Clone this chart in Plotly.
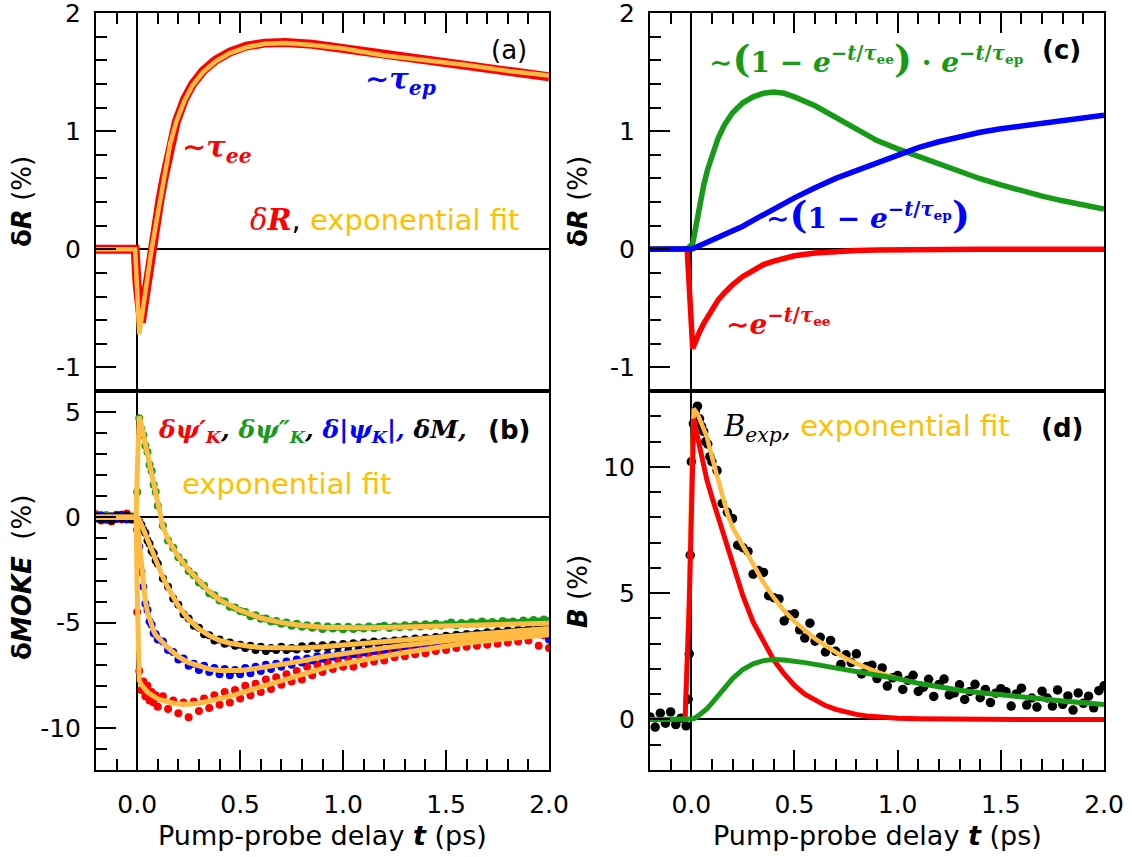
import plotly.graph_objects as go

W, H = 1132, 857

# ---------------- panel (a): delta R ----------------
t_a = [-0.2, -0.1, -0.01, 0.0, 0.01, 0.02, 0.035, 0.05, 0.07, 0.09, 0.11, 0.13, 0.16, 0.19,
       0.23, 0.27, 0.32, 0.38, 0.45, 0.53, 0.62, 0.72, 0.85, 1.0, 1.2, 1.4, 1.6, 1.8, 2.0]
dR_data = [0, 0.01, 0, -0.3, -0.6, -0.62, -0.45, -0.25, -0.02, 0.2, 0.41, 0.6, 0.89, 1.08,
           1.27, 1.4, 1.51, 1.6, 1.67, 1.72, 1.745, 1.75, 1.735, 1.70, 1.645, 1.6, 1.555, 1.51, 1.46]
dR_fit = [0, 0, 0, -0.35, -0.72, -0.6, -0.4, -0.22, 0.0, 0.2, 0.4, 0.6, 0.89, 1.08,
          1.26, 1.39, 1.5, 1.59, 1.66, 1.71, 1.74, 1.745, 1.73, 1.70, 1.64, 1.6, 1.56, 1.51, 1.47]

# ---------------- panel (b): delta MOKE ----------------
t_b = [-0.2, -0.175, -0.15, -0.125, -0.1, -0.075, -0.05, -0.025,
       0.0, 0.01, 0.02, 0.03, 0.04, 0.05, 0.06, 0.07, 0.08, 0.09, 0.1,
       0.125, 0.15, 0.175, 0.2, 0.225, 0.25, 0.275, 0.3, 0.325, 0.35, 0.375, 0.4, 0.425, 0.45, 0.475, 0.5,
       0.525, 0.55, 0.575, 0.6, 0.625, 0.65, 0.675, 0.7, 0.725, 0.75, 0.775, 0.8, 0.825, 0.85, 0.875,
       0.9, 0.925, 0.95, 0.975, 1.0,
       1.025, 1.05, 1.075, 1.1, 1.125, 1.15, 1.175, 1.2, 1.225, 1.25, 1.275, 1.3, 1.325, 1.35, 1.375,
       1.4, 1.425, 1.45, 1.475, 1.5,
       1.525, 1.55, 1.575, 1.6, 1.625, 1.65, 1.675, 1.7, 1.725, 1.75, 1.775, 1.8, 1.825, 1.85, 1.875,
       1.9, 1.925, 1.95, 1.975, 2.0]
psi1_data = [0.15, -0.15, 0.1, -0.2, 0.12, -0.1, 0.18, -0.12,
             -4.5, -7.3, -8.2, -7.8, -8.5, -8.0, -8.7, -8.3, -8.8, -8.45, -9.0,
             -8.5, -9.1, -8.7, -9.3, -8.8, -9.5, -8.75, -9.2, -8.6, -9.05, -8.45, -8.9, -8.3, -8.8, -8.2, -8.6,
             -8.0, -8.45, -7.9, -8.3, -7.7, -8.15, -7.6, -7.95, -7.45, -7.8, -7.3, -7.7, -7.1, -7.5, -7.0,
             -7.35, -6.9, -7.2, -6.75, -7.1,
             -6.7, -7.1, -6.55, -6.95, -6.5, -6.85, -6.4, -6.8, -6.3, -6.65, -6.2, -6.6, -6.15, -6.5, -6.05,
             -6.45, -6.0, -6.35, -5.9, -6.3,
             -5.85, -6.2, -5.8, -6.15, -5.75, -6.1, -5.7, -6.05, -5.65, -6.0, -5.6, -5.95, -5.55, -5.9, -5.55,
             -5.85, -5.5, -6.1, -5.6, -6.2]
psi2_data = [0.1, -0.05, 0.08, -0.1, 0.05, 0.12, -0.06, 0.04,
             1.2, 4.7, 4.2, 3.9, 3.4, 3.1, 2.5, 2.2, 1.55, 1.2, 0.55,
             -0.4, -1.1, -1.45, -1.9, -2.15, -2.55, -2.75, -3.1, -3.25, -3.6, -3.7, -3.95, -4.0, -4.25, -4.28, -4.45,
             -4.5, -4.7, -4.65, -4.82, -4.8, -4.95, -4.92, -5.05, -5.0, -5.15, -5.05, -5.2, -5.12, -5.25, -5.15,
             -5.3, -5.18, -5.28, -5.2, -5.32,
             -5.2, -5.3, -5.22, -5.28, -5.18, -5.27, -5.2, -5.15, -5.26, -5.17, -5.22, -5.12, -5.2, -5.1, -5.18,
             -5.08, -5.15, -5.05, -5.14, -5.08,
             -5.0, -5.12, -5.02, -5.08, -4.98, -5.06, -4.95, -5.04, -4.97, -5.05, -4.92, -5.0, -4.95, -5.02, -4.9,
             -4.98, -4.88, -4.95, -4.85, -4.92]
psiabs_data = [-0.05, 0.1, -0.12, 0.05, -0.08, 0.12, -0.1, 0.0,
               -0.6, -1.4, -2.6, -3.3, -4.1, -4.4, -4.95, -5.1, -5.5, -5.55, -5.8,
               -5.9, -6.3, -6.4, -6.75, -6.7, -7.05, -6.95, -7.25, -7.05, -7.35, -7.15, -7.45, -7.2, -7.5, -7.25, -7.45,
               -7.15, -7.4, -7.1, -7.3, -7.0, -7.2, -6.95, -7.1, -6.85, -7.0, -6.75, -6.9, -6.7, -6.8, -6.6,
               -6.72, -6.52, -6.62, -6.45, -6.55,
               -6.35, -6.5, -6.3, -6.42, -6.22, -6.35, -6.15, -6.3, -6.1, -6.22, -6.02, -6.15, -5.95, -6.08, -5.88,
               -6.02, -5.85, -5.98, -5.78, -5.9,
               -5.72, -5.85, -5.68, -5.82, -5.64, -5.76, -5.6, -5.72, -5.55, -5.68, -5.5, -5.64, -5.48, -5.6, -5.44,
               -5.56, -5.42, -5.55, -5.4, -5.8]
dM_data = [0.05, -0.1, 0.0, -0.15, 0.08, -0.05, 0.1, -0.08,
           -0.1, -0.2, -0.35, -0.6, -0.75, -1.1, -1.25, -1.6, -1.7, -2.05, -2.2,
           -2.9, -3.3, -3.85, -4.15, -4.6, -4.8, -5.15, -5.25, -5.55, -5.6, -5.85, -5.8, -6.0, -5.95, -6.1, -6.05,
           -6.2, -6.1, -6.3, -6.15, -6.35, -6.2, -6.3, -6.15, -6.3, -6.2, -6.28, -6.12, -6.25, -6.1, -6.22,
           -6.08, -6.18, -6.05, -6.15, -6.02,
           -6.1, -5.98, -6.05, -5.95, -6.0, -5.9, -5.98, -5.88, -5.95, -5.85, -5.9, -5.8, -5.86, -5.76, -5.82,
           -5.72, -5.78, -5.68, -5.72, -5.62,
           -5.68, -5.58, -5.64, -5.54, -5.6, -5.5, -5.55, -5.46, -5.52, -5.42, -5.48, -5.38, -5.44, -5.34, -5.4,
           -5.3, -5.36, -5.26, -5.32, -5.24]

t_fb = [-0.2, -0.005, 0.0, 0.01, 0.02, 0.03, 0.04, 0.05, 0.06, 0.07, 0.08, 0.09, 0.1, 0.125, 0.15, 0.175,
        0.2, 0.25, 0.3, 0.35, 0.4, 0.45, 0.5, 0.55, 0.6, 0.7, 0.8, 0.9, 1.0, 1.1, 1.2, 1.3, 1.4, 1.5,
        1.6, 1.7, 1.8, 1.9, 2.0]
psi1_fit = [0, 0, -3.5, -7.75, -7.95, -8.1, -8.2, -8.3, -8.37, -8.44, -8.5, -8.56, -8.62, -8.7, -8.78, -8.83,
            -8.87, -8.88, -8.83, -8.73, -8.62, -8.5, -8.35, -8.2, -8.05, -7.75, -7.45, -7.17, -6.95, -6.75,
            -6.6, -6.42, -6.25, -6.1, -5.97, -5.86, -5.75, -5.66, -5.58]
psi2_fit = [0, 0, 2.0, 4.8, 4.4, 3.95, 3.5, 3.05, 2.6, 2.1, 1.6, 1.12, 0.63, -0.45, -1.05, -1.5,
            -1.86, -2.5, -3.05, -3.53, -3.92, -4.2, -4.42, -4.6, -4.78, -5.0, -5.14, -5.22, -5.25, -5.25,
            -5.23, -5.21, -5.19, -5.16, -5.14, -5.11, -5.08, -5.06, -5.03]
psiabs_fit = [0, 0, -0.2, -1.2, -2.4, -3.35, -4.0, -4.5, -4.85, -5.15, -5.4, -5.6, -5.72, -5.95, -6.2, -6.45,
              -6.62, -6.9, -7.08, -7.2, -7.27, -7.29, -7.27, -7.22, -7.15, -7.0, -6.82, -6.62, -6.47, -6.33,
              -6.2, -6.08, -5.96, -5.85, -5.75, -5.66, -5.57, -5.5, -5.43]
dM_fit = [0, 0, 0, -0.1, -0.3, -0.55, -0.8, -1.05, -1.3, -1.55, -1.75, -2.0, -2.25, -2.85, -3.35, -3.8,
          -4.2, -4.85, -5.3, -5.62, -5.84, -5.98, -6.08, -6.14, -6.18, -6.22, -6.21, -6.15, -6.08, -6.0,
          -5.93, -5.83, -5.74, -5.66, -5.57, -5.5, -5.42, -5.35, -5.28]

# ---------------- panel (c): model components ----------------
t_c = [-0.2, -0.02, 0.007, 0.02, 0.04, 0.06, 0.08, 0.1, 0.13, 0.16, 0.2, 0.25, 0.3, 0.35, 0.4, 0.45,
       0.5, 0.6, 0.7, 0.8, 0.9, 1.0, 1.1, 1.2, 1.3, 1.4, 1.5, 1.6, 1.7, 1.8, 1.9, 2.0]
ee_c = [0, 0, -0.84, -0.78, -0.7, -0.63, -0.57, -0.51, -0.43, -0.37, -0.3, -0.23, -0.175, -0.13, -0.1, -0.075,
        -0.055, -0.032, -0.018, -0.01, -0.006, -0.003, -0.002, -0.001, 0, 0, 0, 0, 0, 0, 0, 0]
ep_c = [0, 0, 0.005, 0.015, 0.03, 0.045, 0.06, 0.075, 0.1, 0.125, 0.15, 0.195, 0.245, 0.295, 0.34, 0.39,
        0.435, 0.52, 0.6, 0.665, 0.73, 0.8, 0.86, 0.91, 0.955, 0.99, 1.02, 1.045, 1.065, 1.09, 1.11, 1.135]
mix_c = [0, 0, 0.05, 0.18, 0.37, 0.54, 0.68, 0.8, 0.94, 1.05, 1.155, 1.24, 1.29, 1.32, 1.33, 1.32,
         1.29, 1.215, 1.12, 1.02, 0.92, 0.85, 0.785, 0.715, 0.652, 0.597, 0.545, 0.495, 0.45, 0.41, 0.37, 0.34]

# ---------------- panel (d): B ----------------
t_d = [-0.2, -0.175, -0.15, -0.125, -0.1, -0.075, -0.05, -0.025, -0.015, -0.01, -0.005, 0.0,
       0.01, 0.02, 0.03, 0.04, 0.05, 0.06, 0.07, 0.08, 0.09, 0.1,
       0.125, 0.15, 0.175, 0.2, 0.225, 0.25, 0.275, 0.3, 0.325, 0.35, 0.375, 0.4, 0.425, 0.45, 0.475, 0.5,
       0.525, 0.55, 0.575, 0.6, 0.625, 0.65, 0.675, 0.7, 0.725, 0.75, 0.775, 0.8, 0.825, 0.85, 0.875,
       0.9, 0.925, 0.95, 0.975, 1.0,
       1.025, 1.05, 1.075, 1.1, 1.125, 1.15, 1.175, 1.2, 1.225, 1.25, 1.275, 1.3, 1.325, 1.35, 1.375,
       1.4, 1.425, 1.45, 1.475, 1.5,
       1.525, 1.55, 1.575, 1.6, 1.625, 1.65, 1.675, 1.7, 1.725, 1.75, 1.775, 1.8, 1.825, 1.85, 1.875,
       1.9, 1.925, 1.95, 1.975, 2.0]
B_data = [0.1, -0.3, 0.25, -0.15, 0.3, -0.2, 0.05, -0.25, 0.8, 2.6, 6.5, 10.2,
          11.7, 12.2, 12.4, 11.9, 11.6, 11.4, 11.0, 10.9, 10.4, 10.2,
          9.85, 8.55, 8.2, 7.95, 6.9, 6.8, 6.65, 5.75, 5.9, 5.82, 4.9, 4.82, 4.77, 3.9, 4.13, 4.18,
          3.55, 3.22, 3.81, 3.1, 3.25, 2.67, 3.13, 2.7, 2.18, 2.56, 2.25, 2.6, 1.8, 2.1, 2.15,
          1.62, 2.04, 1.32, 1.65, 1.74,
          1.19, 1.55, 1.75, 1.11, 1.28, 1.59, 0.91, 1.38, 1.6, 0.97, 1.05, 1.37, 0.79, 1.11, 1.39,
          0.86, 1.19, 0.67, 1.04, 1.22,
          1.1, 0.53, 1.01, 1.24, 0.57, 0.85, 0.49, 1.12, 0.85, 0.53, 1.17, 0.6, 0.93, 0.37, 1.05,
          0.64, 0.92, 0.46, 1.14, 1.33]

t_fd = [-0.2, -0.03, -0.01, 0.0, 0.012, 0.03, 0.05, 0.075, 0.1, 0.125, 0.15, 0.175, 0.2,
        0.25, 0.3, 0.35, 0.4, 0.45, 0.5, 0.55, 0.6, 0.65, 0.7, 0.75, 0.8, 0.85, 0.9, 0.95, 1.0,
        1.1, 1.2, 1.3, 1.4, 1.5, 1.6, 1.7, 1.8, 1.9, 2.0]
B_fit = [0, 0, 5.0, 9.5, 12.3, 12.1, 11.7, 11.2, 10.4, 9.6, 8.85, 8.15, 7.6,
         6.85, 6.1, 5.42, 4.82, 4.3, 3.88, 3.52, 3.2, 2.92, 2.65, 2.41, 2.22, 2.04, 1.88, 1.74, 1.62,
         1.43, 1.28, 1.16, 1.06, 0.97, 0.89, 0.81, 0.73, 0.66, 0.59]
B_ee = [0, 0, 4.5, 8.5, 11.9, 11.2, 10.4, 9.5, 8.8, 8.15, 7.45, 6.8, 6.2,
        4.9, 3.85, 3.05, 2.35, 1.8, 1.35, 1.0, 0.75, 0.55, 0.4, 0.28, 0.2, 0.14, 0.1, 0.07, 0.05,
        0.03, 0.015, 0.008, 0.004, 0, 0, 0, 0, 0, 0]
B_ep = [0, 0, 0, 0, 0.03, 0.12, 0.25, 0.42, 0.65, 0.9, 1.17, 1.42, 1.62,
        1.98, 2.2, 2.33, 2.37, 2.35, 2.31, 2.25, 2.18, 2.11, 2.04, 1.97, 1.9, 1.83, 1.76, 1.69, 1.61,
        1.43, 1.28, 1.16, 1.06, 0.97, 0.89, 0.81, 0.73, 0.66, 0.59]

# ---------------- styling ----------------
RED = "#FF0000"
GREEN = "#179A17"
BLUE = "#0000FF"
FIT = "#FFBC42"
ORANGE_TXT = "#FFC000"
SANS = "DejaVu Sans"
SERIF = "DejaVu Serif"


def fx(px):
    return px / W


def fy(py):
    return 1 - py / H


fig = go.Figure()

# (a)
fig.add_trace(go.Scatter(x=t_a, y=dR_data, mode="lines", line=dict(color=RED, width=9),
                         xaxis="x", yaxis="y"))
fig.add_trace(go.Scatter(x=t_a, y=dR_fit, mode="lines", line=dict(color=FIT, width=4.5),
                         xaxis="x", yaxis="y"))

# (b)
for ys, col in [(psi1_data, RED), (psi2_data, GREEN), (psiabs_data, BLUE), (dM_data, "black")]:
    fig.add_trace(go.Scatter(x=t_b, y=ys, mode="markers", marker=dict(color=col, size=8),
                             xaxis="x2", yaxis="y2"))
for ys in [psi1_fit, psi2_fit, psiabs_fit, dM_fit]:
    fig.add_trace(go.Scatter(x=t_fb, y=ys, mode="lines", line=dict(color=FIT, width=5),
                             xaxis="x2", yaxis="y2"))

# (c)
fig.add_trace(go.Scatter(x=t_c, y=ee_c, mode="lines", line=dict(color=RED, width=5.5), xaxis="x3", yaxis="y3"))
fig.add_trace(go.Scatter(x=t_c, y=mix_c, mode="lines", line=dict(color=GREEN, width=5.5), xaxis="x3", yaxis="y3"))
fig.add_trace(go.Scatter(x=t_c, y=ep_c, mode="lines", line=dict(color=BLUE, width=5.5), xaxis="x3", yaxis="y3"))

# (d)
fig.add_trace(go.Scatter(x=t_d, y=B_data, mode="markers", marker=dict(color="black", size=9.5),
                         xaxis="x4", yaxis="y4"))
fig.add_trace(go.Scatter(x=t_fd, y=B_fit, mode="lines", line=dict(color=FIT, width=4.5), xaxis="x4", yaxis="y4"))
fig.add_trace(go.Scatter(x=t_fd, y=B_ee, mode="lines", line=dict(color=RED, width=5), xaxis="x4", yaxis="y4"))
fig.add_trace(go.Scatter(x=t_fd, y=B_ep, mode="lines", line=dict(color=GREEN, width=5), xaxis="x4", yaxis="y4"))

# ---------------- axes ----------------
XL = [fx(96), fx(549)]
XR = [fx(650), fx(1104)]
YT = [fy(391), fy(13)]
YB = [fy(770), fy(391)]

common = dict(showline=True, linecolor="black", linewidth=2, mirror=True, showgrid=False,
              ticks="inside", tickcolor="black", tickwidth=2, ticklen=20,
              zeroline=True, zerolinecolor="black", zerolinewidth=1.6,
              ticklabeloverflow="allow", automargin=False,
              tickfont=dict(family=SANS, size=25, color="black"))
xminor = dict(tickmode="linear", ticks="inside", ticklen=11, tickwidth=2, tickcolor="black", dtick=0.1, tick0=0)


def xax(dom, anchor, top):
    d = dict(common)
    d.update(domain=dom, anchor=anchor, range=[-0.2, 2.0], tickmode="linear", tick0=0, dtick=0.5,
             minor=xminor, fixedrange=True)
    if top:
        d.update(side="top", showticklabels=False)
    else:
        d.update(side="bottom", tickformat=".1f", ticklabelstandoff=11)
    return d


def yax(dom, anchor, rng, vals, mdt):
    d = dict(common)
    d.update(domain=dom, anchor=anchor, range=rng, tickmode="array", tickvals=vals,
             ticktext=[str(v) for v in vals], ticklabelstandoff=8, fixedrange=True,
             minor=dict(tickmode="linear", ticks="inside", ticklen=11, tickwidth=2, tickcolor="black",
                        dtick=mdt, tick0=0))
    return d


fig.update_layout(
    xaxis=xax(XL, "y", True), yaxis=yax(YT, "x", [-1.2, 2], [-1, 0, 1, 2], 0.2),
    xaxis2=xax(XL, "y2", False), yaxis2=yax(YB, "x2", [-12, 6], [-10, -5, 0, 5], 1),
    xaxis3=xax(XR, "y3", True), yaxis3=yax(YT, "x3", [-1.2, 2], [-1, 0, 1, 2], 0.2),
    xaxis4=xax(XR, "y4", False), yaxis4=yax(YB, "x4", [-2, 13], [0, 5, 10], 1),
)


# ---------------- annotations ----------------
def ann(text, x, y, size=26, family=SANS, color="black", angle=0, weight="normal", style="normal"):
    return dict(text=text, x=fx(x), y=fy(y), xref="paper", yref="paper", showarrow=False,
                xanchor="center", yanchor="middle", textangle=angle,
                font=dict(family=family, size=size, color=color, weight=weight, style=style))


annots = [
    ann("<b>δ<i>R</i></b> (%)", 22, 202, angle=-90),
    ann("<b>δ<i>MOKE</i></b>  (%)", 22, 578, angle=-90),
    ann("<b>δ<i>R</i></b> (%)", 578, 202, angle=-90),
    ann("<b><i>B</i></b> (%)", 578, 592, angle=-90),
    ann("Pump-probe delay <b><i>t</i></b> (ps)", 322, 835, size=27),
    ann("Pump-probe delay <b><i>t</i></b> (ps)", 877, 835, size=27),
    ann("(a)", 509, 50),
    ann("<b>(b)</b>", 509, 430),
    ann("<b>(c)</b>", 1061, 50),
    ann("<b>(d)</b>", 1062, 428),
    # (a)
    ann("∼τ<sub>ep</sub>", 400, 81, size=29, family=SERIF, color=BLUE, weight="bold", style="italic"),
    ann("∼τ<sub>ee</sub>", 217, 149, size=29, family=SERIF, color=RED, weight="bold", style="italic"),
    ann('<span style="font-family:DejaVu Serif;font-style:italic;color:#FF0000">δ<b>R</b></span>'
        '<span style="color:black">, </span>exponential fit', 385, 220, size=29, color=ORANGE_TXT),
    # (b)
    ann('<span style="color:#FF0000">δψ′<sub>K</sub></span>, '
        '<span style="color:#179A17">δψ″<sub>K</sub></span>, '
        '<span style="color:#0000FF">δ|ψ<sub>K</sub>|,</span> δ<i>M</i>,',
        312, 431, size=25, family=SERIF, weight="bold", style="italic"),
    ann("exponential fit", 286, 484, size=29, color=ORANGE_TXT),
    # (c)
    ann('∼<span style="font-size:38px">(</span>1 − <i>e</i><sup>−<i>t</i>/<i>τ</i><sub>ee</sub></sup>'
        '<span style="font-size:38px">)</span> · <i>e</i><sup>−<i>t</i>/<i>τ</i><sub>ep</sub></sup>',
        866, 58, size=28, family=SERIF, color=GREEN, weight="bold"),
    ann('∼<span style="font-size:38px">(</span>1 − <i>e</i><sup>−<i>t</i>/<i>τ</i><sub>ep</sub></sup>'
        '<span style="font-size:38px">)</span>',
        868, 215, size=28, family=SERIF, color=BLUE, weight="bold"),
    ann('∼<i>e</i><sup>−<i>t</i>/<i>τ</i><sub>ee</sub></sup>', 778, 322, size=28, family=SERIF,
        color=RED, weight="bold"),
    # (d)
    ann('<span style="font-family:DejaVu Serif;font-style:italic;color:black">B<sub>exp</sub>,</span> '
        'exponential fit', 866, 428, size=29, color=ORANGE_TXT),
]

fig.update_layout(
    width=W, height=H, margin=dict(l=0, r=0, t=0, b=0, autoexpand=False),
    plot_bgcolor="white", paper_bgcolor="white", showlegend=False,
    hovermode=False, annotations=annots,
)

# remove the browser's default 8 px body margin so the figure fills the window exactly
fig.write_html("out.html", config={"displayModeBar": False},
               post_script="document.body.style.margin='0px';")
